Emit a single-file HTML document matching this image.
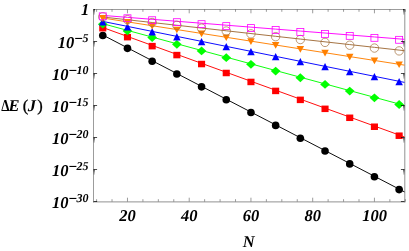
<!DOCTYPE html><html><head><meta charset="utf-8"><style>html,body{margin:0;padding:0;background:#fff}svg{display:block;will-change:transform}</style></head><body><svg width="409" height="251" viewBox="0 0 409 251">
<rect width="409" height="251" fill="#fff"/>
<defs><clipPath id="c"><rect x="93.5" y="9.5" width="311.0" height="192.0"/></clipPath></defs>
<path d="M93.5 9.0V202.4M93.0 9.5H405.3" fill="none" stroke="#9c9c9c" stroke-width="1"/>
<path d="M404.8 9.0V202.4M93.0 201.9H405.3" fill="none" stroke="#929292" stroke-width="1"/>
<g clip-path="url(#c)"><polyline points="102.77,35.00 127.47,47.84 152.17,60.68 176.86,73.53 201.56,86.37 226.25,99.21 250.95,112.05 275.65,124.89 300.34,137.73 325.04,150.57 349.73,163.42 374.43,176.26 399.13,189.10 423.82,201.94" fill="none" stroke="#000000" stroke-width="0.95"/></g>
<g clip-path="url(#c)"><polyline points="102.77,27.50 127.47,36.46 152.17,45.42 176.86,54.38 201.56,63.33 226.25,72.29 250.95,81.25 275.65,90.21 300.34,99.17 325.04,108.12 349.73,117.08 374.43,126.04 399.13,135.00 423.82,143.96" fill="none" stroke="#ff0000" stroke-width="0.95"/></g>
<g clip-path="url(#c)"><polyline points="102.77,23.70 127.47,30.39 152.17,37.08 176.86,43.77 201.56,50.47 226.25,57.16 250.95,63.85 275.65,70.54 300.34,77.23 325.04,83.92 349.73,90.62 374.43,97.31 399.13,104.00 423.82,110.69" fill="none" stroke="#00ff00" stroke-width="0.95"/></g>
<g clip-path="url(#c)"><polyline points="102.77,21.40 127.47,26.39 152.17,31.38 176.86,36.38 201.56,41.37 226.25,46.36 250.95,51.35 275.65,56.34 300.34,61.33 325.04,66.33 349.73,71.32 374.43,76.31 399.13,81.30 423.82,86.29" fill="none" stroke="#0000ff" stroke-width="0.95"/></g>
<g clip-path="url(#c)"><polyline points="102.77,18.00 127.47,21.86 152.17,25.72 176.86,29.57 201.56,33.43 226.25,37.29 250.95,41.15 275.65,45.01 300.34,48.87 325.04,52.73 349.73,56.58 374.43,60.44 399.13,64.30 423.82,68.16" fill="none" stroke="#ff8000" stroke-width="0.95"/></g>
<g clip-path="url(#c)"><polyline points="102.77,17.00 127.47,19.76 152.17,22.52 176.86,25.27 201.56,28.03 226.25,30.79 250.95,33.55 275.65,36.31 300.34,39.07 325.04,41.83 349.73,44.58 374.43,47.34 399.13,50.10 423.82,52.86" fill="none" stroke="#a06d3a" stroke-width="0.95"/></g>
<g clip-path="url(#c)"><polyline points="102.77,15.40 127.47,17.36 152.17,19.32 176.86,21.27 201.56,23.23 226.25,25.19 250.95,27.15 275.65,29.11 300.34,31.07 325.04,33.02 349.73,34.98 374.43,36.94 399.13,38.90 423.82,40.86" fill="none" stroke="#ff00ff" stroke-width="0.95"/></g>
<circle cx="102.77" cy="35.50" r="3.8" fill="#000000"/>
<circle cx="127.47" cy="48.34" r="3.8" fill="#000000"/>
<circle cx="152.17" cy="61.18" r="3.8" fill="#000000"/>
<circle cx="176.86" cy="74.03" r="3.8" fill="#000000"/>
<circle cx="201.56" cy="86.87" r="3.8" fill="#000000"/>
<circle cx="226.25" cy="99.71" r="3.8" fill="#000000"/>
<circle cx="250.95" cy="112.55" r="3.8" fill="#000000"/>
<circle cx="275.65" cy="125.39" r="3.8" fill="#000000"/>
<circle cx="300.34" cy="138.23" r="3.8" fill="#000000"/>
<circle cx="325.04" cy="151.07" r="3.8" fill="#000000"/>
<circle cx="349.73" cy="163.92" r="3.8" fill="#000000"/>
<circle cx="374.43" cy="176.76" r="3.8" fill="#000000"/>
<circle cx="399.13" cy="189.60" r="3.8" fill="#000000"/>
<rect x="99.22" y="24.95" width="7.1" height="6.5" fill="#ff0000"/>
<rect x="123.92" y="33.91" width="7.1" height="6.5" fill="#ff0000"/>
<rect x="148.62" y="42.87" width="7.1" height="6.5" fill="#ff0000"/>
<rect x="173.31" y="51.83" width="7.1" height="6.5" fill="#ff0000"/>
<rect x="198.01" y="60.78" width="7.1" height="6.5" fill="#ff0000"/>
<rect x="222.70" y="69.74" width="7.1" height="6.5" fill="#ff0000"/>
<rect x="247.40" y="78.70" width="7.1" height="6.5" fill="#ff0000"/>
<rect x="272.10" y="87.66" width="7.1" height="6.5" fill="#ff0000"/>
<rect x="296.79" y="96.62" width="7.1" height="6.5" fill="#ff0000"/>
<rect x="321.49" y="105.58" width="7.1" height="6.5" fill="#ff0000"/>
<rect x="346.18" y="114.53" width="7.1" height="6.5" fill="#ff0000"/>
<rect x="370.88" y="123.49" width="7.1" height="6.5" fill="#ff0000"/>
<rect x="395.58" y="132.45" width="7.1" height="6.5" fill="#ff0000"/>
<path d="M97.92 24.20L102.77 19.80L107.62 24.20L102.77 28.60Z" fill="#00ff00"/>
<path d="M122.62 30.89L127.47 26.49L132.32 30.89L127.47 35.29Z" fill="#00ff00"/>
<path d="M147.32 37.58L152.17 33.18L157.02 37.58L152.17 41.98Z" fill="#00ff00"/>
<path d="M172.01 44.27L176.86 39.88L181.71 44.27L176.86 48.67Z" fill="#00ff00"/>
<path d="M196.71 50.97L201.56 46.57L206.41 50.97L201.56 55.37Z" fill="#00ff00"/>
<path d="M221.40 57.66L226.25 53.26L231.10 57.66L226.25 62.06Z" fill="#00ff00"/>
<path d="M246.10 64.35L250.95 59.95L255.80 64.35L250.95 68.75Z" fill="#00ff00"/>
<path d="M270.80 71.04L275.65 66.64L280.50 71.04L275.65 75.44Z" fill="#00ff00"/>
<path d="M295.49 77.73L300.34 73.33L305.19 77.73L300.34 82.13Z" fill="#00ff00"/>
<path d="M320.19 84.42L325.04 80.02L329.89 84.42L325.04 88.83Z" fill="#00ff00"/>
<path d="M344.88 91.12L349.73 86.72L354.58 91.12L349.73 95.52Z" fill="#00ff00"/>
<path d="M369.58 97.81L374.43 93.41L379.28 97.81L374.43 102.21Z" fill="#00ff00"/>
<path d="M394.28 104.50L399.13 100.10L403.98 104.50L399.13 108.90Z" fill="#00ff00"/>
<path d="M99.02 25.40L102.77 18.00L106.52 25.40Z" fill="#0000ff"/>
<path d="M123.72 30.39L127.47 22.99L131.22 30.39Z" fill="#0000ff"/>
<path d="M148.42 35.38L152.17 27.98L155.92 35.38Z" fill="#0000ff"/>
<path d="M173.11 40.38L176.86 32.98L180.61 40.38Z" fill="#0000ff"/>
<path d="M197.81 45.37L201.56 37.97L205.31 45.37Z" fill="#0000ff"/>
<path d="M222.50 50.36L226.25 42.96L230.00 50.36Z" fill="#0000ff"/>
<path d="M247.20 55.35L250.95 47.95L254.70 55.35Z" fill="#0000ff"/>
<path d="M271.90 60.34L275.65 52.94L279.40 60.34Z" fill="#0000ff"/>
<path d="M296.59 65.33L300.34 57.93L304.09 65.33Z" fill="#0000ff"/>
<path d="M321.29 70.33L325.04 62.93L328.79 70.33Z" fill="#0000ff"/>
<path d="M345.98 75.32L349.73 67.92L353.48 75.32Z" fill="#0000ff"/>
<path d="M370.68 80.31L374.43 72.91L378.18 80.31Z" fill="#0000ff"/>
<path d="M395.38 85.30L399.13 77.90L402.88 85.30Z" fill="#0000ff"/>
<path d="M99.02 15.10L102.77 21.80L106.52 15.10Z" fill="#ff8000"/>
<path d="M123.72 18.96L127.47 25.66L131.22 18.96Z" fill="#ff8000"/>
<path d="M148.42 22.82L152.17 29.52L155.92 22.82Z" fill="#ff8000"/>
<path d="M173.11 26.67L176.86 33.37L180.61 26.67Z" fill="#ff8000"/>
<path d="M197.81 30.53L201.56 37.23L205.31 30.53Z" fill="#ff8000"/>
<path d="M222.50 34.39L226.25 41.09L230.00 34.39Z" fill="#ff8000"/>
<path d="M247.20 38.25L250.95 44.95L254.70 38.25Z" fill="#ff8000"/>
<path d="M271.90 42.11L275.65 48.81L279.40 42.11Z" fill="#ff8000"/>
<path d="M296.59 45.97L300.34 52.67L304.09 45.97Z" fill="#ff8000"/>
<path d="M321.29 49.83L325.04 56.52L328.79 49.83Z" fill="#ff8000"/>
<path d="M345.98 53.68L349.73 60.38L353.48 53.68Z" fill="#ff8000"/>
<path d="M370.68 57.54L374.43 64.24L378.18 57.54Z" fill="#ff8000"/>
<path d="M395.38 61.40L399.13 68.10L402.88 61.40Z" fill="#ff8000"/>
<circle cx="102.77" cy="16.83" r="4.2" fill="none" stroke="#a06d3a" stroke-width="0.7"/>
<circle cx="127.47" cy="19.67" r="4.2" fill="none" stroke="#a06d3a" stroke-width="0.7"/>
<circle cx="152.17" cy="22.51" r="4.2" fill="none" stroke="#a06d3a" stroke-width="0.7"/>
<circle cx="176.86" cy="25.34" r="4.2" fill="none" stroke="#a06d3a" stroke-width="0.7"/>
<circle cx="201.56" cy="28.18" r="4.2" fill="none" stroke="#a06d3a" stroke-width="0.7"/>
<circle cx="226.25" cy="31.02" r="4.2" fill="none" stroke="#a06d3a" stroke-width="0.7"/>
<circle cx="250.95" cy="33.86" r="4.2" fill="none" stroke="#a06d3a" stroke-width="0.7"/>
<circle cx="275.65" cy="36.70" r="4.2" fill="none" stroke="#a06d3a" stroke-width="0.7"/>
<circle cx="300.34" cy="39.54" r="4.2" fill="none" stroke="#a06d3a" stroke-width="0.7"/>
<circle cx="325.04" cy="42.38" r="4.2" fill="none" stroke="#a06d3a" stroke-width="0.7"/>
<circle cx="349.73" cy="45.21" r="4.2" fill="none" stroke="#a06d3a" stroke-width="0.7"/>
<circle cx="374.43" cy="48.05" r="4.2" fill="none" stroke="#a06d3a" stroke-width="0.7"/>
<circle cx="399.13" cy="50.89" r="4.2" fill="none" stroke="#a06d3a" stroke-width="0.7"/>
<rect x="99.27" y="12.85" width="7.0" height="6.9" fill="none" stroke="#ff00ff" stroke-width="0.8"/>
<rect x="123.97" y="14.81" width="7.0" height="6.9" fill="none" stroke="#ff00ff" stroke-width="0.8"/>
<rect x="148.67" y="16.77" width="7.0" height="6.9" fill="none" stroke="#ff00ff" stroke-width="0.8"/>
<rect x="173.36" y="18.72" width="7.0" height="6.9" fill="none" stroke="#ff00ff" stroke-width="0.8"/>
<rect x="198.06" y="20.68" width="7.0" height="6.9" fill="none" stroke="#ff00ff" stroke-width="0.8"/>
<rect x="222.75" y="22.64" width="7.0" height="6.9" fill="none" stroke="#ff00ff" stroke-width="0.8"/>
<rect x="247.45" y="24.60" width="7.0" height="6.9" fill="none" stroke="#ff00ff" stroke-width="0.8"/>
<rect x="272.15" y="26.56" width="7.0" height="6.9" fill="none" stroke="#ff00ff" stroke-width="0.8"/>
<rect x="296.84" y="28.52" width="7.0" height="6.9" fill="none" stroke="#ff00ff" stroke-width="0.8"/>
<rect x="321.54" y="30.47" width="7.0" height="6.9" fill="none" stroke="#ff00ff" stroke-width="0.8"/>
<rect x="346.23" y="32.43" width="7.0" height="6.9" fill="none" stroke="#ff00ff" stroke-width="0.8"/>
<rect x="370.93" y="34.39" width="7.0" height="6.9" fill="none" stroke="#ff00ff" stroke-width="0.8"/>
<rect x="395.63" y="36.35" width="7.0" height="6.9" fill="none" stroke="#ff00ff" stroke-width="0.8"/>
<path d="M96.60 201.5v-2.3M96.60 9.5v2.3M112.03 201.5v-2.3M112.03 9.5v2.3M127.47 201.5v-3.8M127.47 9.5v3.8M142.91 201.5v-2.3M142.91 9.5v2.3M158.34 201.5v-2.3M158.34 9.5v2.3M173.78 201.5v-2.3M173.78 9.5v2.3M189.21 201.5v-3.8M189.21 9.5v3.8M204.64 201.5v-2.3M204.64 9.5v2.3M220.08 201.5v-2.3M220.08 9.5v2.3M235.52 201.5v-2.3M235.52 9.5v2.3M250.95 201.5v-3.8M250.95 9.5v3.8M266.38 201.5v-2.3M266.38 9.5v2.3M281.82 201.5v-2.3M281.82 9.5v2.3M297.25 201.5v-2.3M297.25 9.5v2.3M312.69 201.5v-3.8M312.69 9.5v3.8M328.12 201.5v-2.3M328.12 9.5v2.3M343.56 201.5v-2.3M343.56 9.5v2.3M359.00 201.5v-2.3M359.00 9.5v2.3M374.43 201.5v-3.8M374.43 9.5v3.8M389.87 201.5v-2.3M389.87 9.5v2.3M405.30 201.5v-2.3M405.30 9.5v2.3" stroke="#000" stroke-width="0.4" fill="none"/>
<path d="M93.5 9.50h1.5M404.5 9.50h-1.5M93.5 41.50h3.6M404.5 41.50h-3.6M93.5 73.50h3.6M404.5 73.50h-3.6M93.5 105.50h3.6M404.5 105.50h-3.6M93.5 137.50h3.6M404.5 137.50h-3.6M93.5 169.50h3.6M404.5 169.50h-3.6M93.5 201.50h3.6M404.5 201.50h-3.6" stroke="#000" stroke-width="0.7" fill="none"/>
<path d="M93.5 13.97h1.4M404.5 13.97h-1.4M93.5 12.85h1.4M404.5 12.85h-1.4M93.5 12.05h1.4M404.5 12.05h-1.4M93.5 11.43h1.4M404.5 11.43h-1.4M93.5 10.92h1.4M404.5 10.92h-1.4M93.5 10.49h1.4M404.5 10.49h-1.4M93.5 10.12h1.4M404.5 10.12h-1.4M93.5 9.79h1.4M404.5 9.79h-1.4M93.5 45.97h1.4M404.5 45.97h-1.4M93.5 44.85h1.4M404.5 44.85h-1.4M93.5 44.05h1.4M404.5 44.05h-1.4M93.5 43.43h1.4M404.5 43.43h-1.4M93.5 42.92h1.4M404.5 42.92h-1.4M93.5 42.49h1.4M404.5 42.49h-1.4M93.5 42.12h1.4M404.5 42.12h-1.4M93.5 41.79h1.4M404.5 41.79h-1.4M93.5 77.97h1.4M404.5 77.97h-1.4M93.5 76.85h1.4M404.5 76.85h-1.4M93.5 76.05h1.4M404.5 76.05h-1.4M93.5 75.43h1.4M404.5 75.43h-1.4M93.5 74.92h1.4M404.5 74.92h-1.4M93.5 74.49h1.4M404.5 74.49h-1.4M93.5 74.12h1.4M404.5 74.12h-1.4M93.5 73.79h1.4M404.5 73.79h-1.4M93.5 109.97h1.4M404.5 109.97h-1.4M93.5 108.85h1.4M404.5 108.85h-1.4M93.5 108.05h1.4M404.5 108.05h-1.4M93.5 107.43h1.4M404.5 107.43h-1.4M93.5 106.92h1.4M404.5 106.92h-1.4M93.5 106.49h1.4M404.5 106.49h-1.4M93.5 106.12h1.4M404.5 106.12h-1.4M93.5 105.79h1.4M404.5 105.79h-1.4M93.5 141.97h1.4M404.5 141.97h-1.4M93.5 140.85h1.4M404.5 140.85h-1.4M93.5 140.05h1.4M404.5 140.05h-1.4M93.5 139.43h1.4M404.5 139.43h-1.4M93.5 138.92h1.4M404.5 138.92h-1.4M93.5 138.49h1.4M404.5 138.49h-1.4M93.5 138.12h1.4M404.5 138.12h-1.4M93.5 137.79h1.4M404.5 137.79h-1.4M93.5 173.97h1.4M404.5 173.97h-1.4M93.5 172.85h1.4M404.5 172.85h-1.4M93.5 172.05h1.4M404.5 172.05h-1.4M93.5 171.43h1.4M404.5 171.43h-1.4M93.5 170.92h1.4M404.5 170.92h-1.4M93.5 170.49h1.4M404.5 170.49h-1.4M93.5 170.12h1.4M404.5 170.12h-1.4M93.5 169.79h1.4M404.5 169.79h-1.4" stroke="#000" stroke-width="0.33" fill="none"/>
<g style="font-family:'Liberation Serif',serif;font-weight:bold;font-style:italic;font-size:16.5px;fill:#000;text-rendering:geometricPrecision">
<text x="127.57" y="221" text-anchor="middle">20</text>
<text x="189.31" y="221" text-anchor="middle">40</text>
<text x="251.05" y="221" text-anchor="middle">60</text>
<text x="312.79" y="221" text-anchor="middle">80</text>
<text x="374.53" y="221" text-anchor="middle">100</text>
<text x="248.7" y="247" text-anchor="middle">N</text>
<text x="89.2" y="15.3" text-anchor="end">1</text>
<text x="88.40" y="41.70" text-anchor="end" font-size="12px">5</text>
<rect x="75.20" y="37.90" width="7.0" height="1.1" fill="#000"/>
<text x="74.20" y="48.30" text-anchor="end">10</text>
<text x="88.40" y="73.70" text-anchor="end" font-size="12px">10</text>
<rect x="69.40" y="69.90" width="7.0" height="1.1" fill="#000"/>
<text x="68.40" y="80.30" text-anchor="end">10</text>
<text x="88.40" y="105.70" text-anchor="end" font-size="12px">15</text>
<rect x="69.40" y="101.90" width="7.0" height="1.1" fill="#000"/>
<text x="68.40" y="112.30" text-anchor="end">10</text>
<text x="88.40" y="137.70" text-anchor="end" font-size="12px">20</text>
<rect x="69.40" y="133.90" width="7.0" height="1.1" fill="#000"/>
<text x="68.40" y="144.30" text-anchor="end">10</text>
<text x="88.40" y="169.70" text-anchor="end" font-size="12px">25</text>
<rect x="69.40" y="165.90" width="7.0" height="1.1" fill="#000"/>
<text x="68.40" y="176.30" text-anchor="end">10</text>
<text x="88.40" y="201.70" text-anchor="end" font-size="12px">30</text>
<rect x="69.40" y="197.90" width="7.0" height="1.1" fill="#000"/>
<text x="68.40" y="208.30" text-anchor="end">10</text>
<text transform="translate(1.2 110.5) scale(0.8 1)" font-style="normal">Δ</text>
<text x="8.6" y="110.5">E</text>
<text x="22.8" y="110.5" font-style="normal" font-weight="normal" stroke="#000" stroke-width="0.3">(</text>
<text x="27.8" y="110.5">J</text>
<text x="37.3" y="110.5" font-style="normal" font-weight="normal" stroke="#000" stroke-width="0.3">)</text>
</g>
</svg></body></html>
